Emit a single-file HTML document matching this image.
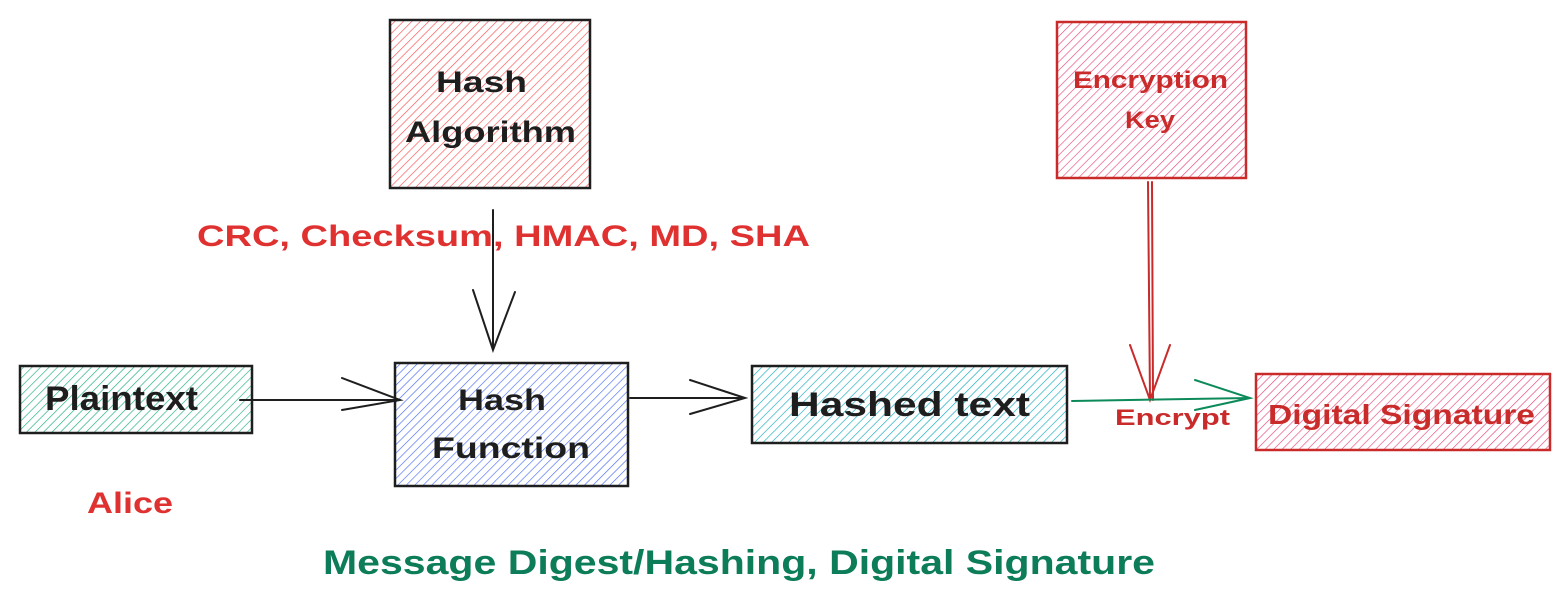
<!DOCTYPE html>
<html><head><meta charset="utf-8"><style>
html,body{margin:0;padding:0;background:#fff;}
svg{display:block;}
text{font-family:"Liberation Sans",sans-serif;font-weight:bold;}
</style></head><body>
<svg width="1568" height="606" viewBox="0 0 1568 606" xmlns="http://www.w3.org/2000/svg">
<defs>
<pattern id="pr" width="6" height="6" patternUnits="userSpaceOnUse" patternTransform="rotate(45)"><line x1="0" y1="0" x2="0" y2="6" stroke="#fa5252" stroke-width="1.3"/></pattern>
<pattern id="pk" width="6" height="6" patternUnits="userSpaceOnUse" patternTransform="rotate(45)"><line x1="0" y1="0" x2="0" y2="6" stroke="#e64980" stroke-width="1.3"/></pattern>
<pattern id="pg" width="6" height="6" patternUnits="userSpaceOnUse" patternTransform="rotate(45)"><line x1="0" y1="0" x2="0" y2="6" stroke="#20b07a" stroke-width="1.3"/></pattern>
<pattern id="pb" width="6" height="6" patternUnits="userSpaceOnUse" patternTransform="rotate(45)"><line x1="0" y1="0" x2="0" y2="6" stroke="#4c6ef5" stroke-width="1.3"/></pattern>
<pattern id="pt" width="6" height="6" patternUnits="userSpaceOnUse" patternTransform="rotate(45)"><line x1="0" y1="0" x2="0" y2="6" stroke="#15aabf" stroke-width="1.3"/></pattern>
</defs>
<g stroke-width="2.5">
<rect x="390" y="20" width="200" height="168" fill="url(#pr)" stroke="#1e1e1e"/>
<rect x="1057" y="22" width="189" height="156" fill="url(#pk)" stroke="#c92a2a"/>
<rect x="20" y="366" width="232" height="67" fill="url(#pg)" stroke="#1e1e1e"/>
<rect x="395" y="363" width="233" height="123" fill="url(#pb)" stroke="#1e1e1e"/>
<rect x="752" y="366" width="315" height="77" fill="url(#pt)" stroke="#1e1e1e"/>
<rect x="1256" y="374" width="294" height="76" fill="url(#pk)" stroke="#c92a2a"/>
</g>
<g fill="none" stroke-width="2" stroke-linecap="round">
<path d="M493 210 L493 350 M473 290 L493 350 L515 292" stroke="#1e1e1e"/>
<path d="M240 400 L400 400 M342 378 L400 400 L342 410" stroke="#1e1e1e"/>
<path d="M630 398 L745 398 M690 380 L745 398 L690 414" stroke="#1e1e1e"/>
<path d="M1148 182 L1150 400 M1152 182 L1153 400 M1130 345 L1150 400 L1170 345" stroke="#c92a2a"/>
<path d="M1072 401 L1250 398 M1195 380 L1250 398 L1195 410" stroke="#0c8a5a"/>
</g>
<g font-size="30">
<text x="436" y="92" fill="#1e1e1e" textLength="91" lengthAdjust="spacingAndGlyphs">Hash</text>
<text x="405" y="142" fill="#1e1e1e" textLength="171" lengthAdjust="spacingAndGlyphs">Algorithm</text>
<text x="1073" y="88" fill="#c92a2a" font-size="24" textLength="155" lengthAdjust="spacingAndGlyphs">Encryption</text>
<text x="1125" y="128" fill="#c92a2a" font-size="24" textLength="50" lengthAdjust="spacingAndGlyphs">Key</text>
<text x="45" y="410" fill="#1e1e1e" font-size="34" textLength="153" lengthAdjust="spacingAndGlyphs">Plaintext</text>
<text x="458" y="410" fill="#1e1e1e" textLength="88" lengthAdjust="spacingAndGlyphs">Hash</text>
<text x="432" y="458" fill="#1e1e1e" textLength="158" lengthAdjust="spacingAndGlyphs">Function</text>
<text x="789" y="416" fill="#1e1e1e" font-size="34" textLength="241" lengthAdjust="spacingAndGlyphs">Hashed text</text>
<text x="1268" y="424" fill="#c92a2a" font-size="28" textLength="267" lengthAdjust="spacingAndGlyphs">Digital Signature</text>
<text x="197" y="246" fill="#e03131" textLength="613" lengthAdjust="spacingAndGlyphs">CRC, Checksum, HMAC, MD, SHA</text>
<text x="1115" y="425" fill="#c92a2a" font-size="22" textLength="115" lengthAdjust="spacingAndGlyphs">Encrypt</text>
<text x="87" y="513" fill="#e03131" textLength="86" lengthAdjust="spacingAndGlyphs">Alice</text>
<text x="323" y="574" fill="#0c7c59" font-size="34" textLength="832" lengthAdjust="spacingAndGlyphs">Message Digest/Hashing, Digital Signature</text>
</g>
</svg>
</body></html>
